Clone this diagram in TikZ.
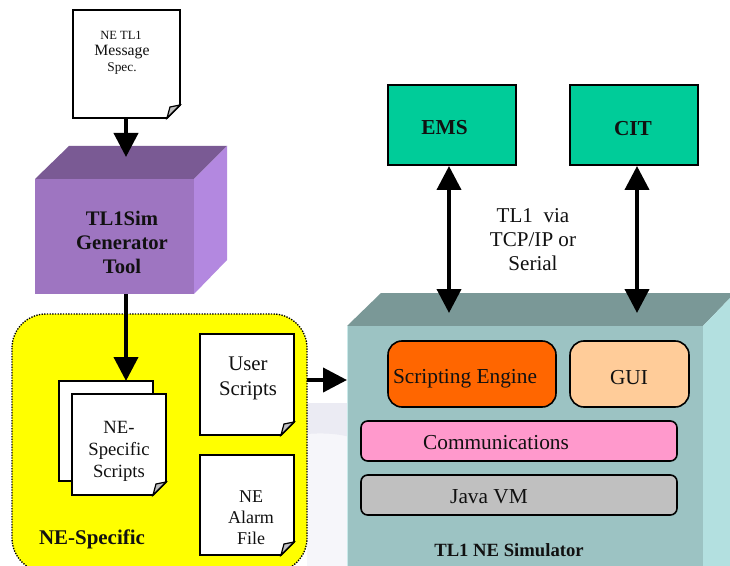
\documentclass[tikz,border=0pt]{standalone}
\usepackage{fontspec}
\setmainfont{Liberation Serif}
\usetikzlibrary{arrows.meta}
\definecolor{pur}{HTML}{9E75C1}
\definecolor{purtop}{HTML}{7A5A94}
\definecolor{purside}{HTML}{B388E0}
\definecolor{tealf}{HTML}{9CC3C3}
\definecolor{tealtop}{HTML}{7A9897}
\definecolor{teals}{HTML}{B3E0E0}
\definecolor{greenb}{HTML}{00CC99}
\definecolor{orng}{HTML}{FF6600}
\definecolor{peach}{HTML}{FFCC99}
\definecolor{pinkb}{HTML}{FF99CC}
\definecolor{graybox}{HTML}{C0C0C0}
\definecolor{foldc}{HTML}{C0C0C0}
\definecolor{txt}{HTML}{111111}
\definecolor{yel}{HTML}{FFFF00}
\definecolor{back1}{HTML}{EBEBF3}
\definecolor{back2}{HTML}{F6F6FA}
\tikzset{
 x=0.75pt,y=-0.75pt,
 conn/.style={line width=3pt,black,-{Triangle[length=18pt,width=18pt]}},
 conn2/.style={line width=3pt,black,{Triangle[length=18pt,width=18pt]}-{Triangle[length=18pt,width=18pt]}},
 lab/.style={align=center,text=txt,inner sep=0pt},
 bigbox/.style={draw=black,line width=1.2pt,rounded corners=10.5pt},
 barbox/.style={draw=black,line width=1.2pt,rounded corners=5pt},
 greenbox/.style={fill=greenb,draw=black,line width=1.5pt}
}
\newcommand{\docpage}[4]{%
 \fill[white,draw=black,line width=1.4pt] (#1,#2) -- (#3,#2) -- (#3,#4-13) -- (#3-13,#4) -- (#1,#4) -- cycle;
 \fill[foldc,draw=black,line width=0.9pt] (#3,#4-13) -- (#3-10,#4-11) -- (#3-13,#4) -- cycle;
}
\begin{document}
\begin{tikzpicture}
\useasboundingbox (0,0) rectangle (730,566);
\fill[white] (0,0) rectangle (730,566);
% faint backdrop
\fill[back2] (307,403) rectangle (350,566);
\fill[back1] (307,403) -- (350,403) -- (350,437) .. controls (335,433) and (320,433) .. (307,434) -- cycle;
% generator box
\fill[purtop] (35,179) -- (69,146) -- (227,146) -- (194,179) -- cycle;
\fill[purside] (194,179) -- (227,146) -- (227,260) -- (194,294) -- cycle;
\fill[pur] (35,179) rectangle (194,294);
\node[lab,font=\bfseries\fontsize{15.5}{18}\selectfont] (gen) at (122,242) {TL1Sim\\Generator\\Tool};
\coordinate (genB) at (126,294);
\coordinate (genTip) at (126,157);
% message spec
\docpage{73}{10}{180}{118}
\coordinate (specB) at (126,118);
\node[lab,font=\fontsize{9.4}{10}\selectfont] (s1) at (121,35) {NE TL1};
\node[lab,font=\fontsize{11.8}{12}\selectfont] (s2) at (122,52) {Message};
\node[lab,font=\fontsize{10}{10}\selectfont] (s3) at (122,69) {Spec.};
\draw[conn] (specB) -- (genTip);
% NE specific
\fill[yel] (12,314) [rounded corners=25.5pt] rectangle (307,572);
\draw[black,line width=1pt,dash pattern=on 1pt off 1pt,rounded corners=25.5pt] (12,314) rectangle (307,572);
\docpage{200}{334}{294}{435}
\docpage{200}{455}{294}{555}
\fill[white,draw=black,line width=1.4pt] (59,381) rectangle (153,481);
\docpage{72}{394}{166}{495}
\coordinate (neT) at (126,381);
\draw[conn] (genB) -- (neT);
\node[lab,font=\fontsize{14}{16.5}\selectfont] (ne) at (119,451) {NE-\\Specific\\Scripts};
\node[lab,font=\fontsize{15.6}{18.75}\selectfont] (us) at (248,378) {User\\Scripts};
\node[lab,font=\fontsize{13.5}{15.75}\selectfont] (al) at (251,518) {NE\\Alarm\\File};
\node[lab,font=\bfseries\fontsize{15.7}{17}\selectfont] (nesp) at (92,539) {NE-Specific};
% simulator box
\fill[tealtop] (347,326) -- (381,293) -- (730,293) -- (730,298) -- (703,326) -- cycle;
\fill[teals] (703,326) -- (730,298) -- (730,566) -- (703,566) -- cycle;
\fill[tealf] (347,326) rectangle (703,566);
\draw[teals!70!white,line width=1pt] (347.5,326) -- (347.5,566);
\coordinate (neR) at (307,380);
\coordinate (simL) at (347,380);
\draw[conn] (neR) -- (simL);
% inner boxes
\fill[orng,bigbox] (388,341) rectangle (556,407);
\fill[peach,bigbox] (570,341) rectangle (689,407);
\fill[pinkb,barbox] (361,421) rectangle (677,461);
\fill[graybox,barbox] (361,475) rectangle (677,515);
\node[lab,font=\fontsize{16}{18}\selectfont] (sct) at (465,379) {Scripting Engine};
\node[lab,font=\fontsize{16}{18}\selectfont] (gui) at (629,378) {GUI};
\node[lab,font=\fontsize{16}{18}\selectfont] (com) at (496,443) {Communications};
\node[lab,font=\fontsize{16}{18}\selectfont] (jvm) at (489,497) {Java VM};
\node[lab,font=\bfseries\fontsize{14}{16}\selectfont] (tns) at (509,550) {TL1 NE Simulator};
% EMS / CIT
\fill[greenbox] (388,85) rectangle (516,165);
\fill[greenbox] (570,85) rectangle (698,165);
\node[lab,font=\bfseries\fontsize{16}{18}\selectfont] (ems) at (444.5,128) {EMS};
\node[lab,font=\bfseries\fontsize{16}{18}\selectfont] (cit) at (633,129) {CIT};
\coordinate (emsB) at (449,166);
\coordinate (citB) at (637,166);
\coordinate (simA) at (449,313);
\coordinate (simB) at (637,313);
\draw[conn2] (emsB) -- (simA);
\draw[conn2] (citB) -- (simB);
\node[lab,font=\fontsize{15.8}{18}\selectfont] (tl1) at (533,240) {TL1\ \ via\\TCP/IP or\\Serial};
\end{tikzpicture}
\end{document}
